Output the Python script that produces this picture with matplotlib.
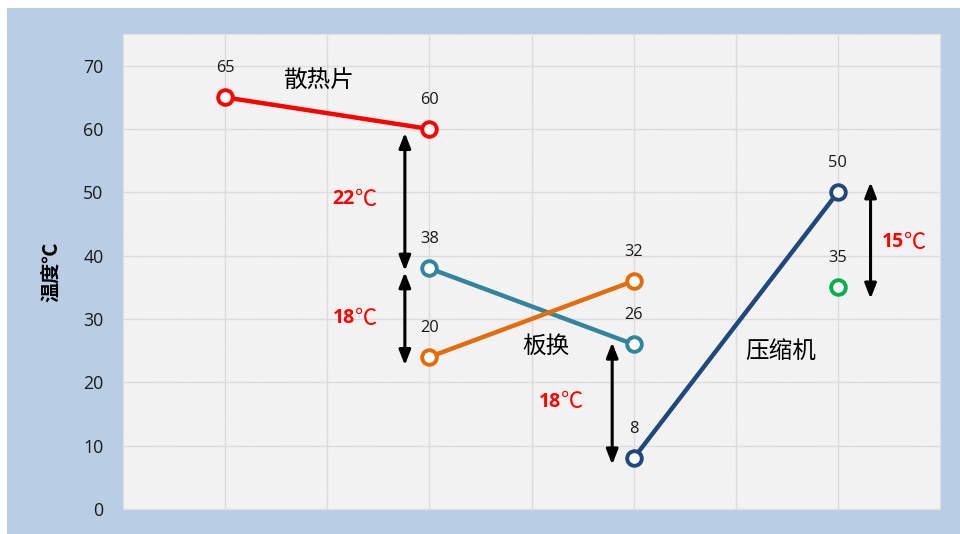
import matplotlib
matplotlib.use("Agg")
import matplotlib.pyplot as plt
from matplotlib.patches import Rectangle

plt.rcParams['font.family'] = ['Open Sans', 'Noto Sans CJK SC', 'DejaVu Sans']
plt.rcParams['hatch.linewidth'] = 0.9
CJK = ['Noto Sans CJK SC', 'DejaVu Sans']

# Temperatures (℃) at each stage, x positions are stage columns
heatsink_x = [1, 3]
heatsink_y = [65, 60]
plate_hot_x = [3, 5]
plate_hot_y = [38, 26]
plate_cold_x = [3, 5]
plate_cold_y = [20, 32]      # plotted on the secondary axis
comp_x = [5, 7]
comp_y = [8, 50]
single_x = [7]
single_y = [35]

y_ticks = [0, 10, 20, 30, 40, 50, 60, 70]

# Temperature difference annotations: (x, y_top, y_bottom)
arrows = [(2.76, 59.4, 37.6), (2.76, 37.4, 22.7), (4.79, 26.3, 7.0), (7.32, 51.6, 33.2)]
diff_labels = [(2.27, 48.9, "22", "℃"), (2.27, 30.1, "18", "℃"), (4.29, 16.9, "18", "℃"), (7.65, 42.1, "15", "℃")]
part_labels = [(1.91, 67.7, "散热片"), (4.14, 25.6, "板换"), (6.44, 24.8, "压缩机")]

fig = plt.figure(figsize=(9.6, 5.34), dpi=100, facecolor='white')
fig.patches.append(Rectangle((7 / 960, 0), 1, (534 - 8) / 534, transform=fig.transFigure,
                             facecolor='#b9cde5', edgecolor='none', zorder=-10))

ax = fig.add_axes([123 / 960, 25 / 534, 817 / 960, 475 / 534])
ax.set_facecolor('#ffffff')
ax.add_patch(Rectangle((0, 0), 1, 1, transform=ax.transAxes, facecolor='none',
                       edgecolor='#ececec', hatch='\\' * 12, lw=0, zorder=0))
ax.set_xlim(0, 8)
ax.set_ylim(0, 75)
ax.set_yticks(y_ticks)
ax.set_xticks(range(1, 8))
ax.tick_params(axis='x', length=0, labelbottom=False)
ax.tick_params(axis='y', length=0, labelsize=12.8, pad=14, labelcolor='#1a1a1a')
ax.grid(True, color='#dcdcdc', lw=1, zorder=1)
ax.set_axisbelow(True)
for s in ax.spines.values():
    s.set_color('#e2e2e2')
ax.set_ylabel("温度℃", fontsize=14.5, fontweight='bold', labelpad=16, family=CJK)

# Secondary axis for the plate heat exchanger cold side
ax2 = ax.twinx()
ax2.set_ylim(-4, 71)
ax2.axis('off')

mk = dict(marker='o', markersize=10.5, markerfacecolor='white', markeredgewidth=2.8, zorder=5)

def label_points(a, xs, ys):
    for x, y in zip(xs, ys):
        a.annotate(f"{y}", (x, y), xytext=(0, 21), textcoords='offset points',
                   ha='center', va='center', fontsize=11.8, color='#1a1a1a')

def series(a, xs, ys, color):
    a.plot(xs, ys, color=color, lw=3.2, **mk)
    label_points(a, xs, ys)

series(ax, heatsink_x, heatsink_y, '#ff0000')
series(ax, plate_hot_x, plate_hot_y, '#31859c')
series(ax2, plate_cold_x, plate_cold_y, '#e46c0a')
series(ax, comp_x, comp_y, '#1f497d')
ax.plot(single_x, single_y, color='#00b050', lw=0, **mk)
label_points(ax, single_x, single_y)

for x, y0, y1 in arrows:
    ax.annotate("", xy=(x, y0), xytext=(x, y1),
                arrowprops=dict(arrowstyle='<|-|>,head_length=0.9,head_width=0.35',
                                color='black', lw=2.2, shrinkA=0, shrinkB=0), zorder=6)

for x, y, num, unit in diff_labels:
    ax.annotate(num, (x, y), xytext=(-8, 0), textcoords='offset points', ha='center', va='center',
                fontsize=14, fontweight='bold', color='#ff0000')
    ax.annotate(unit, (x, y), xytext=(8, 0), textcoords='offset points', ha='center', va='center',
                fontsize=16, color='#ff0000', family=CJK)

for x, y, t in part_labels:
    ax.text(x, y, t, ha='center', va='center', fontsize=17, color='black', family=CJK)

fig.savefig("out.png", dpi=100, facecolor=fig.get_facecolor())
